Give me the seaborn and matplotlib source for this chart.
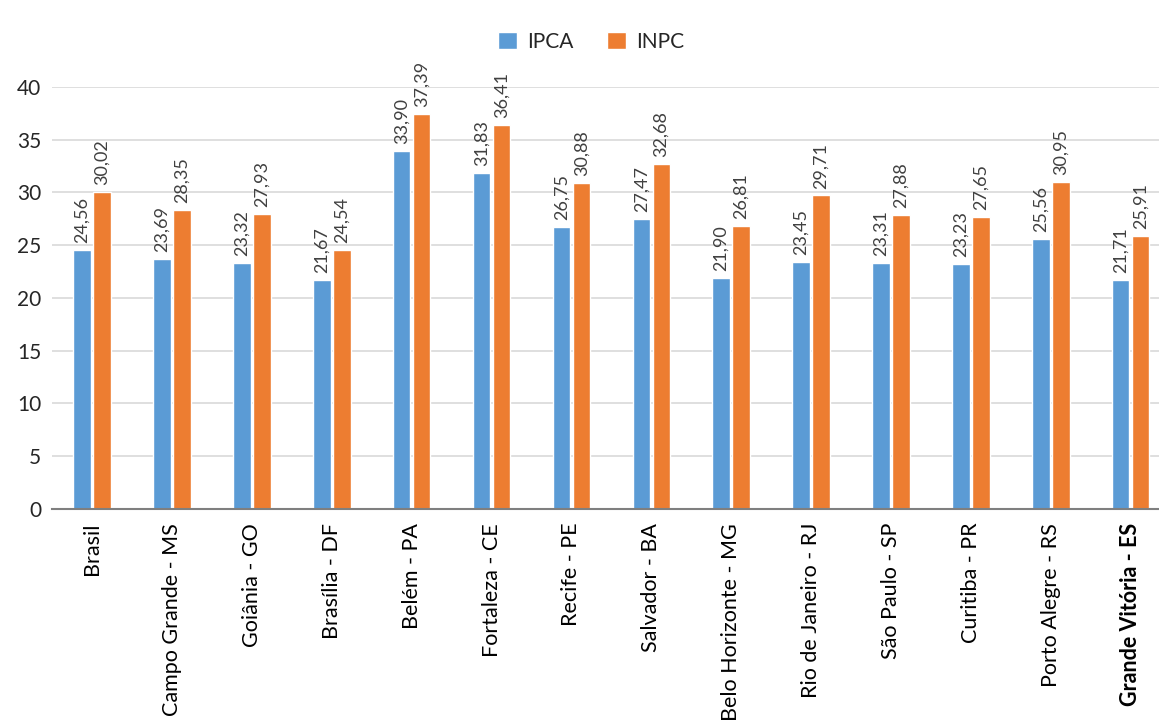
import matplotlib
matplotlib.use("Agg")
import matplotlib.pyplot as plt
import seaborn as sns
import pandas as pd

# data
cidades = ["Brasil", "Campo Grande - MS", "Goiânia - GO", "Brasília - DF", "Belém - PA",
           "Fortaleza - CE", "Recife - PE", "Salvador - BA", "Belo Horizonte - MG",
           "Rio de Janeiro - RJ", "São Paulo - SP", "Curitiba - PR", "Porto Alegre - RS",
           "Grande Vitória - ES"]
ipca = [24.56, 23.69, 23.32, 21.67, 33.90, 31.83, 26.75, 27.47, 21.90, 23.45, 23.31, 23.23, 25.56, 21.71]
inpc = [30.02, 28.35, 27.93, 24.54, 37.39, 36.41, 30.88, 32.68, 26.81, 29.71, 27.88, 27.65, 30.95, 25.91]
series = ["IPCA", "INPC"]
cores = ["#5B9BD5", "#ED7D31"]

df = pd.DataFrame({"cidade": cidades * 2,
                   "indice": ["IPCA"] * len(cidades) + ["INPC"] * len(cidades),
                   "valor": ipca + inpc})

sns.set_theme(style="white")
plt.rcParams['font.family'] = ['Lato', 'DejaVu Sans']

fig = plt.figure(figsize=(11.59, 7.24), dpi=100)
ax = fig.add_axes([0.045, 0.297, 0.965, 0.583])

sns.barplot(data=df, x="cidade", y="valor", hue="indice", hue_order=series,
            palette=cores, width=0.5, gap=0.12, saturation=1, ax=ax, legend=True)

# data labels, rotated, comma as decimal separator
for cont in ax.containers:
    labels = [f"{b.get_height():.2f}".replace(".", ",") for b in cont]
    ax.bar_label(cont, labels=labels, rotation=90, padding=5, fontsize=13,
                 color="#404040", clip_on=False)

ax.set_ylim(0, 40)
ax.set_xlim(-0.5, 13.5)
ax.set_yticks(range(0, 41, 5))
ax.yaxis.grid(True, color="#D9D9D9", linewidth=1.2)
ax.set_axisbelow(True)
for s in ["top", "right", "left"]:
    ax.spines[s].set_visible(False)
ax.spines["bottom"].set_color("#7F7F7F")
ax.spines["bottom"].set_linewidth(1.5)
ax.set_xlabel("")
ax.set_ylabel("")
ax.tick_params(axis="y", labelsize=15, colors="#262626", length=0, pad=8)
ax.tick_params(axis="x", labelsize=15.5, colors="#000000", length=0, pad=10)
plt.setp(ax.get_xticklabels(), rotation=90)
ax.get_xticklabels()[-1].set_fontweight("bold")

leg = ax.legend(loc="upper center", bbox_to_anchor=(0.482, 1.175), ncol=2,
                frameon=False, fontsize=15, handlelength=0.9, handleheight=0.9,
                columnspacing=1.6, handletextpad=0.5)
for t in leg.get_texts():
    t.set_color("#262626")

fig.savefig("out.png", dpi=100)
